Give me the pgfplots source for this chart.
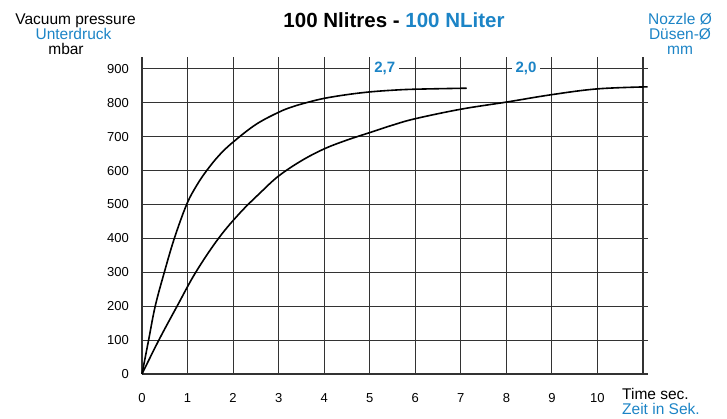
\documentclass[border=0pt]{standalone}
\usepackage{pgfplots}
\pgfplotsset{compat=1.18}
\usepackage{fontspec}
\setmainfont{Liberation Sans}
\definecolor{fblue}{RGB}{28,132,198}
\begin{document}
\begin{tikzpicture}[x=1pt,y=1pt]
\useasboundingbox (0,0) rectangle (727,418);
\begin{axis}[
  at={(142pt,44pt)}, anchor=south west,
  scale only axis, width=506pt, height=317pt,
  xmin=0, xmax=11.11, ymin=0, ymax=935,
  xtick={0,1,...,11}, xticklabels={0,1,2,3,4,5,6,7,8,9,10,{}},
  ytick={0,100,...,900},
  grid=major, major grid style={black!80, line width=1.1pt},
  axis line style={draw=none}, major tick length=0pt,
  tick style={draw=none},
  /pgf/number format/assume math mode=true,
  ticklabel style={font=\fontsize{13}{13}\selectfont, inner sep=0pt},
  yticklabel style={anchor=east}, yticklabel shift=13pt,
  xticklabel style={anchor=north}, xticklabel shift=19.5pt,
  clip=false,
]
\addplot[black, line width=1.6pt, smooth, tension=0.6] table {
x y
0 0
0.145 100
0.29 200
0.49 300
0.71 400
0.98 500
1.2 556
1.42 600
1.7 646
2.0 684
2.5 736
3.0 772
3.3 788
3.63 801
4.0 813
4.5 824
5.0 832
5.5 837
6.0 840
7.13 843
};
\addplot[black, line width=1.6pt, smooth, tension=0.6] table {
x y
0 0
0.37 100
0.77 200
1.18 300
1.68 400
2.15 475
2.6 535
3.0 584
3.5 629
4.0 664
4.5 690
5.0 712
5.5 734
6.0 753
7.0 781
8.0 802
9.0 824
10.0 841
11.1 847
};
\node[fill=white, inner xsep=4pt, inner ysep=1.5pt, text=fblue, font=\bfseries\fontsize{15}{15}\selectfont] at (axis cs:5.33,900) {2,7};
\node[fill=white, inner xsep=4pt, inner ysep=1.5pt, text=fblue, font=\bfseries\fontsize{15}{15}\selectfont] at (axis cs:8.43,900) {2,0};
\end{axis}
\node[anchor=base, font=\fontsize{20.5}{20.5}\selectfont\bfseries] at (394,390.7) {100 Nlitres - \textcolor{fblue}{100 NLiter}};
\begin{scope}[every node/.style={anchor=base, inner sep=0pt, font=\fontsize{15.5}{15.5}\selectfont}]
\node at (75.5,393) {Vacuum pressure};
\node[text=fblue] at (73.5,378.5) {Unterdruck};
\node at (66,363) {mbar};
\node[text=fblue] at (680,393) {Nozzle Ø};
\node[text=fblue] at (680,378.5) {Düsen-Ø};
\node[text=fblue] at (680,363) {mm};
\node[anchor=base west] at (622,18.5) {Time sec.};
\node[anchor=base west, text=fblue] at (622,3.5) {Zeit in Sek.};
\end{scope}
\end{tikzpicture}
\end{document}
